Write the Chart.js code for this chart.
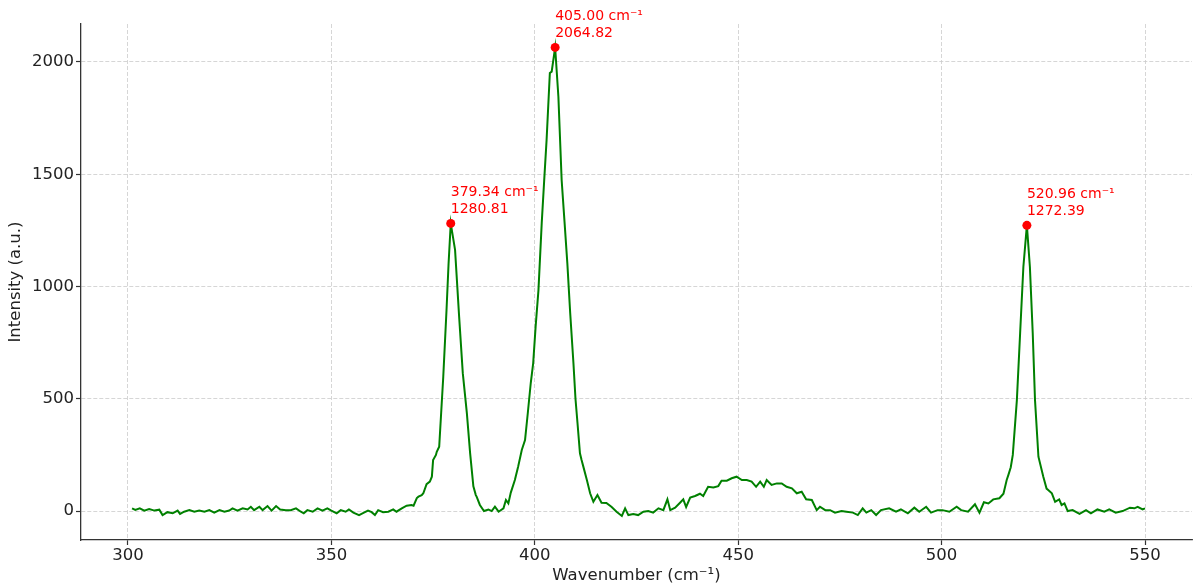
<!DOCTYPE html>
<html>
<head>
<meta charset="utf-8">
<script src="https://cdn.jsdelivr.net/npm/chart.js@4.4.1/dist/chart.umd.min.js"></script>
<style>
  html, body { margin: 0; padding: 0; background: #fff; }
  #wrap { width: 1193px; height: 588px; position: relative; }
</style>
</head>
<body>
<div id="wrap"><canvas id="c" width="1193" height="588"></canvas></div>
<script>
// ---- Data ----
const wavenumbers = [
  301.0, 301.8, 302.9, 304.0, 305.2, 306.5, 307.7, 308.5, 309.7, 311.0,
  312.2, 312.8, 313.8, 315.1, 316.3, 317.5, 318.8, 320.0, 321.2, 322.5,
  323.7, 324.9, 325.7, 326.9, 328.2, 329.4, 330.2, 331.0, 332.3, 333.1,
  334.3, 335.3, 336.4, 337.4, 338.8, 340.0, 341.3, 342.5, 343.2, 344.1,
  345.4, 346.6, 347.8, 349.0, 350.0, 351.3, 352.3, 353.5, 354.3, 355.4,
  356.8, 358.0, 359.0, 359.9, 360.7, 361.5, 362.7, 364.0, 365.2, 366.0,
  367.3, 368.5, 369.7, 370.2, 371.0, 371.4, 372.2, 372.6, 373.4, 374.2,
  374.7, 375.0, 375.7, 375.9, 376.5, 377.5, 378.3, 378.8, 379.34, 380.4,
  381.4, 382.3, 383.3, 384.1, 384.9, 385.5, 385.7, 386.5, 387.5, 388.6,
  389.4, 390.2, 391.1, 392.3, 392.9, 393.5, 394.1, 395.1, 395.9, 396.8,
  397.6, 398.3, 399.0, 399.6, 400.2, 400.9, 401.7, 402.3, 402.9, 403.7,
  404.15, 405.0, 405.8, 406.6, 407.3, 408.0, 408.7, 409.5, 410.0, 410.5,
  411.1, 411.5, 411.9, 412.8, 413.6, 414.4, 415.4, 416.4, 417.6, 418.9,
  420.1, 421.4, 422.2, 423.0, 424.2, 425.4, 426.7, 427.9, 429.1, 430.4,
  431.6, 432.6, 433.3, 434.5, 435.7, 436.5, 437.2, 438.2, 439.4, 440.6,
  441.4, 442.6, 443.9, 445.1, 445.9, 447.2, 448.4, 449.6, 450.9, 452.1,
  453.3, 454.4, 455.4, 456.3, 457.0, 458.2, 459.5, 460.7, 461.9, 463.2,
  464.4, 465.6, 466.7, 468.1, 469.3, 470.1, 471.4, 472.6, 473.8, 475.4,
  476.6, 478.2, 479.4, 480.6, 481.5, 482.7, 483.9, 485.1, 487.1, 488.8,
  490.0, 491.7, 493.3, 494.5, 496.2, 497.4, 499.0, 500.2, 501.9, 503.7,
  504.8, 506.5, 508.2, 509.3, 510.4, 511.5, 512.7, 514.2, 515.2, 516.0,
  516.4, 517.0, 517.5, 518.5, 519.3, 520.1, 520.96, 521.7, 522.4, 522.96,
  523.8, 525.0, 525.8, 526.2, 527.1, 527.9, 528.9, 529.5, 530.2, 531.0,
  532.2, 533.9, 535.5, 536.7, 538.3, 540.0, 541.2, 542.8, 544.5, 546.3,
  547.4, 548.2, 549.4, 550.0
];
const intensities = [
  12, 5, 12, 2, 9, 2, 6, -18, -5, -10,
  2, -13, -3, 4, -3, 2, -3, 4, -7, 4,
  -3, 2, 12, 2, 12, 7, 19, 4, 19, 4,
  22, 2, 22, 7, 4, 4, 12, -3, -10, 4,
  -3, 12, 2, 12, 2, -10, 4, -3, 7, -7,
  -18, -7, 2, -5, -18, 4, -5, -3, 7, -3,
  12, 24, 27, 24, 58, 64, 71, 79, 120, 131,
  153, 227, 250, 264, 286, 598, 895, 1100, 1280.81, 1163,
  866, 614, 436, 258, 110, 71, 64, 27, 0, 7,
  0, 19, -3, 12, 49, 34, 82, 138, 197, 272,
  316, 440, 569, 658, 820, 984, 1281, 1470, 1653, 1951,
  1957, 2064.82, 1845, 1474, 1290, 1103, 882, 658, 500, 391,
  257, 227, 200, 138, 79, 41, 71, 37, 36, 18,
  -3, -22, 12, -18, -13, -18, -3, 0, -7, 12,
  4, 52, 4, 15, 37, 52, 18, 60, 67, 77,
  67, 108, 105, 111, 135, 135, 146, 153, 138, 138,
  131, 108, 131, 108, 138, 116, 123, 123, 108, 101,
  79, 86, 52, 49, 4, 19, 4, 4, -7, 0,
  -3, -7, -18, 12, -7, 4, -18, 4, 12, -3,
  7, -10, 15, -3, 19, -7, 4, 4, -3, 19,
  4, -3, 30, -7, 39, 34, 52, 57, 77, 138,
  160, 195, 250, 494, 792, 1088, 1272.39, 1088, 792, 494,
  242, 153, 100, 94, 79, 41, 52, 27, 34, 0,
  4, -13, 4, -10, 7, -3, 7, -7, 0, 15,
  12, 19, 7, 12
];
const peakWavenumbers = [379.34, 405.00, 520.96];
const peakIntensities = [1280.81, 2064.82, 1272.39];
const xTickValues = [300, 350, 400, 450, 500, 550];
const yTickValues = [0, 500, 1000, 1500, 2000];

const FONT = 'DejaVu Sans';

const peakLabels = {
  id: 'peakLabels',
  afterDatasetsDraw(chart) {
    const {ctx, scales: {x, y}} = chart;
    ctx.save();
    ctx.fillStyle = '#ff0000';
    ctx.font = '14px "' + FONT + '"';
    ctx.textAlign = 'left';
    ctx.textBaseline = 'alphabetic';
    peakWavenumbers.forEach((w, i) => {
      const px = x.getPixelForValue(w);
      const py = y.getPixelForValue(peakIntensities[i]);
      ctx.fillText(w.toFixed(2) + ' cm\u207B\u00B9', px, py - 27);
      ctx.fillText(peakIntensities[i].toFixed(2), px, py - 10);
    });
    ctx.restore();
  }
};

const gridCommon = {
  color: '#cccccc',
  lineWidth: 0.8,
  drawTicks: true,
  tickLength: 5,
  tickColor: '#333333',
  tickWidth: 1.2,
  tickBorderDash: []
};

new Chart(document.getElementById('c'), {
  type: 'line',
  data: {
    datasets: [
      {
        data: wavenumbers.map((w, i) => ({x: w, y: intensities[i]})),
        borderColor: '#008000',
        borderWidth: 2,
        pointRadius: 0,
        tension: 0,
        fill: false,
        order: 2
      },
      {
        data: peakWavenumbers.map((w, i) => ({x: w, y: peakIntensities[i]})),
        showLine: false,
        pointRadius: 4.5,
        pointBackgroundColor: '#ff0000',
        pointBorderWidth: 0,
        borderColor: '#ff0000',
        order: 1
      }
    ]
  },
  options: {
    responsive: false,
    animation: false,
    events: [],
    layout: {autoPadding: false, padding: {left: 0, top: 24, right: 1, bottom: 0}},
    plugins: {legend: {display: false}, tooltip: {enabled: false}},
    scales: {
      x: {
        type: 'linear',
        min: 288.45,
        max: 561.55,
        afterBuildTicks: s => { s.ticks = xTickValues.map(v => ({value: v})); },
        afterFit: s => { s.height = 48; s.paddingLeft = 0; s.paddingRight = 0; },
        grid: gridCommon,
        border: {display: true, color: '#333333', width: 1.3, dash: [4, 2]},
        ticks: {
          color: '#222222',
          font: {family: FONT, size: 16.5},
          padding: 1,
          maxRotation: 0,
          autoSkip: false,
          callback: v => String(v)
        },
        title: {
          display: true,
          text: 'Wavenumber (cm\u207B\u00B9)',
          color: '#222222',
          font: {family: FONT, size: 16.5},
          padding: {top: 0, bottom: 2}
        }
      },
      y: {
        type: 'linear',
        min: -129,
        max: 2169,
        afterBuildTicks: s => { s.ticks = yTickValues.map(v => ({value: v})); },
        afterFit: s => { s.width = 81; s.paddingTop = 0; s.paddingBottom = 0; },
        grid: gridCommon,
        border: {display: true, color: '#333333', width: 1.3, dash: [4, 2]},
        ticks: {
          color: '#222222',
          font: {family: FONT, size: 16.5},
          padding: 2,
          autoSkip: false,
          callback: v => String(v)
        },
        title: {
          display: true,
          text: 'Intensity (a.u.)',
          color: '#222222',
          font: {family: FONT, size: 16.5},
          padding: {top: 6, bottom: 0}
        }
      }
    }
  },
  plugins: [peakLabels]
});
</script>
</body>
</html>
